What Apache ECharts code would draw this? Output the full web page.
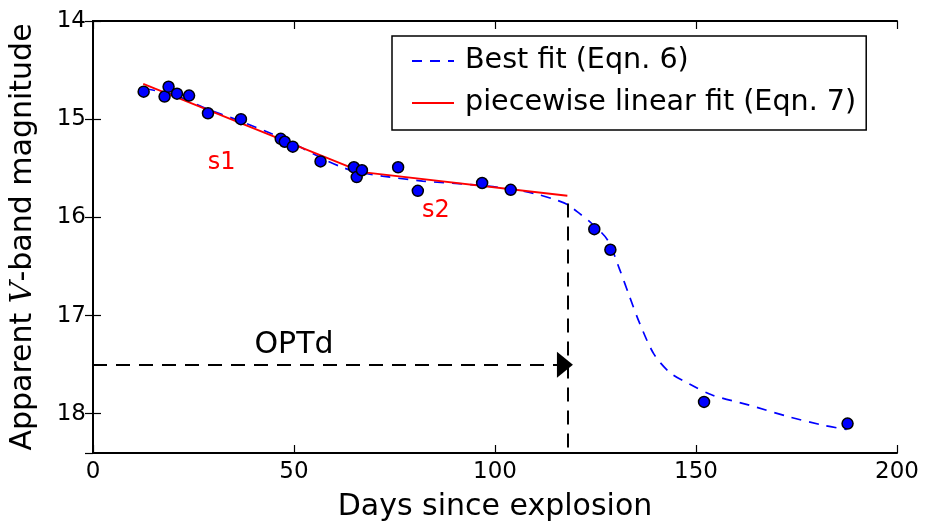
<!DOCTYPE html>
<html>
<head>
<meta charset="UTF-8">
<title></title>
<style>
	html,body{margin:0;padding:0;background:#fff}
	#lc{width:925px;height:527px}
</style>
</head>
<body>
<div id="lc"></div>
<script src="https://cdn.jsdelivr.net/npm/echarts@6/dist/echarts.min.js"></script>
<script>
// observed V-band points [day, mag]
var obsDays = [12.6, 17.8, 18.8, 20.9, 23.9, 28.6, 36.8, 46.7, 47.7, 49.7, 56.6, 64.9, 65.6, 66.9, 75.9, 80.8, 96.8, 103.9, 124.7, 128.7, 152.0, 187.7];
var obsMags = [14.72, 14.77, 14.67, 14.74, 14.76, 14.94, 15.00, 15.20, 15.23, 15.28, 15.43, 15.49, 15.59, 15.52, 15.49, 15.73, 15.65, 15.72, 16.12, 16.33, 17.88, 18.10];

// best fit (Eqn. 6)
var bestDays = [13, 20, 28, 36, 44, 50, 57, 62, 66, 72, 82, 95, 104, 110, 115, 118, 121, 124, 128, 131, 133.5, 136, 139.5, 143.5, 148.5, 154, 163, 173, 182, 187.5];
var bestMags = [14.69, 14.75, 14.89, 15.01, 15.14, 15.25, 15.40, 15.49, 15.54, 15.58, 15.63, 15.67, 15.71, 15.76, 15.82, 15.87, 15.96, 16.06, 16.23, 16.53, 16.81, 17.08, 17.39, 17.58, 17.70, 17.81, 17.91, 18.03, 18.12, 18.16];

// piecewise linear fit (Eqn. 7)
var pieceDays = [12.5, 67, 118];
var pieceMags = [14.64, 15.54, 15.78];

// OPTd marker
var optdDay = 118;
var optdMag = 17.5;
var optdTopMag = 15.86;

// text annotations
var noteText = ['s1', 's2', 'OPTd'];
var noteDays = [32, 85.3, 50];
var noteMags = [15.44, 15.93, 17.30];
var noteColors = ['#ff0000', '#ff0000', '#000000'];
var noteSizes = [24, 24, 30];

var xTicks = [0, 50, 100, 150, 200];
var yTicks = [14, 15, 16, 17, 18];

function zip(a, b) {
	var out = [];
	for (var i = 0; i < a.length; i++) out.push([a[i], b[i]]);
	return out;
}

var notes = [];
for (var i = 0; i < noteText.length; i++) {
	notes.push({
		value: [noteDays[i], noteMags[i]],
		label: {formatter: noteText[i], color: noteColors[i], fontSize: noteSizes[i]}
	});
}

var font = 'DejaVu Sans';
var ax = {
	axisLine: {lineStyle: {color: '#000', width: 2}},
	axisTick: {inside: true, length: 8, lineStyle: {color: '#000', width: 1.2}},
	splitLine: {show: false}
};

var chart = echarts.init(document.getElementById('lc'));
var option = {
	animation: false,
	textStyle: {fontFamily: font},
	grid: {left: 91, right: 28, top: 21, bottom: 74},
	legend: {
		orient: 'vertical',
		left: 392,
		top: 36,
		padding: [10, 10, 12, 19],
		itemGap: 12,
		itemWidth: 42,
		itemHeight: 14,
		itemStyle: {opacity: 0},
		borderColor: '#000',
		borderWidth: 1.5,
		borderRadius: 0,
		textStyle: {fontSize: 28.6, lineHeight: 30, color: '#000', fontFamily: font, padding: [0, 0, 0, 6]},
		data: ['Best fit (Eqn. 6)', 'piecewise linear fit (Eqn. 7)']
	},
	xAxis: [{
		type: 'value', min: 0, max: 200, interval: 50,
		name: 'Days since explosion', nameLocation: 'middle', nameGap: 39,
		nameTextStyle: {fontSize: 30, color: '#000', fontFamily: font},
		axisLabel: {fontSize: 23, color: '#000', margin: 8, fontFamily: font},
		axisLine: ax.axisLine, axisTick: ax.axisTick, splitLine: ax.splitLine
	}, {
		type: 'value', min: 0, max: 200, interval: 50, position: 'top',
		axisLabel: {show: false},
		axisLine: ax.axisLine, axisTick: ax.axisTick, splitLine: ax.splitLine
	}],
	yAxis: [{
		type: 'value', inverse: true, min: 14, max: 18.4, interval: 1,
		name: '{a|Apparent }{i|V}{a|-band magnitude}', nameLocation: 'middle', nameGap: 55, nameRotate: 90,
		nameTextStyle: {
			rich: {
				a: {fontSize: 30, color: '#000', fontFamily: font},
				i: {fontSize: 30, color: '#000', fontFamily: 'DejaVu Serif', fontStyle: 'italic'}
			}
		},
		axisLabel: {fontSize: 23, color: '#000', margin: 7, showMaxLabel: false, fontFamily: font},
		axisLine: ax.axisLine, axisTick: ax.axisTick, splitLine: ax.splitLine
	}, {
		type: 'value', inverse: true, min: 14, max: 18.4, interval: 1, position: 'right',
		axisLabel: {show: false},
		axisLine: ax.axisLine, axisTick: ax.axisTick, splitLine: ax.splitLine
	}],
	series: [{
		name: 'OPTd arrow',
		type: 'line',
		data: [],
		silent: true,
		markLine: {
			silent: true,
			animation: false,
			label: {show: false},
			lineStyle: {color: '#000', type: [14, 9], width: 2},
			data: [
				[{coord: [0, optdMag], symbol: 'none'}, {coord: [optdDay - 0.6, optdMag], symbol: 'triangle', symbolSize: [26, 16]}],
				[{coord: [optdDay, optdTopMag], symbol: 'none'}, {coord: [optdDay, 18.4], symbol: 'none'}]
			]
		}
	}, {
		name: 'Best fit (Eqn. 6)',
		type: 'line',
		data: zip(bestDays, bestMags),
		smooth: 0.3,
		showSymbol: false,
		symbol: 'none',
		color: '#0000ff',
		lineStyle: {color: '#0000ff', width: 1.7, type: [10, 8]},
		z: 3
	}, {
		name: 'piecewise linear fit (Eqn. 7)',
		type: 'line',
		data: zip(pieceDays, pieceMags),
		showSymbol: false,
		symbol: 'none',
		color: '#ff0000',
		lineStyle: {color: '#ff0000', width: 1.8},
		z: 4
	}, {
		name: 'observed',
		type: 'scatter',
		data: zip(obsDays, obsMags),
		symbolSize: 11,
		itemStyle: {color: '#0000ff', borderColor: '#000', borderWidth: 1.5, opacity: 1},
		z: 5
	}, {
		name: 'notes',
		type: 'scatter',
		data: notes,
		symbolSize: 0,
		silent: true,
		itemStyle: {opacity: 1},
		label: {show: true, position: 'inside', fontFamily: font, opacity: 1},
		z: 6
	}]
};
chart.setOption(option);
</script>
</body>
</html>
